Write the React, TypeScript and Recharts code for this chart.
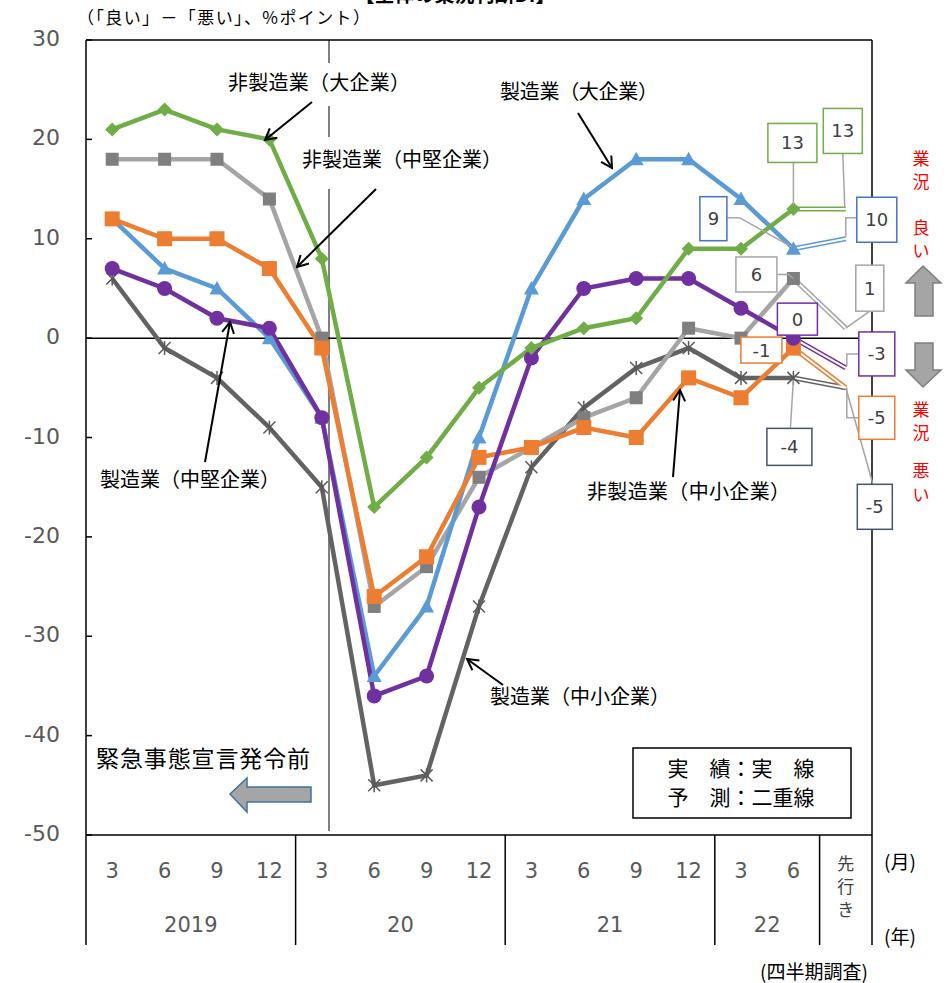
import React from 'react';
import { ComposedChart, Line, XAxis, YAxis, ReferenceLine } from 'recharts';

// ---------- data ----------
const months = ['3', '6', '9', '12', '3', '6', '9', '12', '3', '6', '9', '12', '3', '6', '先行き'];
const yearLabels = ['2019', '20', '21', '22'];
const yearFrom = [0, 4, 8, 12];
const yearTo = [3, 7, 11, 13];
const yTicks = [-50, -40, -30, -20, -10, 0, 10, 20, 30];

const nonMfgLarge = [21, 23, 21, 20, 8, -17, -12, -5, -1, 1, 2, 9, 9, 13];
const nonMfgLargeFcst = 13;
const mfgLarge = [12, 7, 5, 0, -8, -34, -27, -10, 5, 14, 18, 18, 14, 9];
const mfgLargeFcst = 10;
const nonMfgMid = [18, 18, 18, 14, 0, -27, -23, -14, -11, -8, -6, 1, 0, 6];
const nonMfgMidFcst = 1;
const nonMfgSmall = [12, 10, 10, 7, -1, -26, -22, -12, -11, -9, -10, -4, -6, -1];
const nonMfgSmallFcst = -5;
const mfgMid = [7, 5, 2, 1, -8, -36, -34, -17, -2, 5, 6, 6, 3, 0];
const mfgMidFcst = -3;
const mfgSmall = [6, -1, -4, -9, -15, -45, -44, -27, -13, -7, -3, -1, -4, -4];
const mfgSmallFcst = -5;

// ---------- styles ----------
const JP = '"Noto Sans CJK JP", "Noto Sans", sans-serif';
const NUM = '"DejaVu Sans", Verdana, sans-serif';
const W = 950;
const H = 983;
const PLOT_LEFT = 86;
const PLOT_RIGHT = 872;
const PLOT_TOP = 40;
const PLOT_BOTTOM = 835;
const TABLE_H = 110;
const BAND = (PLOT_RIGHT - PLOT_LEFT) / months.length;

type LabelSpec = { dx: number; dy: number; w: number; h: number; leader: number[][] };
type Series = {
  key: string;
  values: number[];
  forecast: number;
  color: string;
  markerColor: string;
  marker: string;
  border: string;
  actualLabel: LabelSpec;
  fcstLabel: LabelSpec;
};

const series: Series[] = [
  {
    key: 'mfgSmall', values: mfgSmall, forecast: mfgSmallFcst, color: '#636363', markerColor: '#595959', marker: 'star', border: '#44546a',
    actualLabel: { dx: -4, dy: 69, w: 45, h: 37, leader: [[-3, 50], [0, 2]] },
    fcstLabel: { dx: 29, dy: 119, w: 35, h: 45, leader: [[0, 0], [27, 96]] },
  },
  {
    key: 'nonMfgMid', values: nonMfgMid, forecast: nonMfgMidFcst, color: '#a5a5a5', markerColor: '#7f7f7f', marker: 'square', border: '#a5a5a5',
    actualLabel: { dx: -37, dy: -4, w: 41, h: 35, leader: [[-16, -4], [-5, -4], [0, 0]] },
    fcstLabel: { dx: 24, dy: -40, w: 28, h: 46, leader: [[24, -17], [0, 0]] },
  },
  {
    key: 'mfgLarge', values: mfgLarge, forecast: mfgLargeFcst, color: '#5b9bd5', markerColor: '#5b9bd5', marker: 'triangle', border: '#4472c4',
    actualLabel: { dx: -80, dy: -30, w: 27, h: 44, leader: [[-66, -31], [-54, -31], [-2, -2]] },
    fcstLabel: { dx: 31, dy: -19, w: 40, h: 45, leader: [[11, -21], [0, -21], [0, -2]] },
  },
  {
    key: 'nonMfgSmall', values: nonMfgSmall, forecast: nonMfgSmallFcst, color: '#ed7d31', markerColor: '#ed7d31', marker: 'bigsquare', border: '#ed7d31',
    actualLabel: { dx: -32, dy: 2, w: 41, h: 26, leader: [] },
    fcstLabel: { dx: 31, dy: 30, w: 36, h: 43, leader: [[1, 0], [1, 30], [13, 30]] },
  },
  {
    key: 'mfgMid', values: mfgMid, forecast: mfgMidFcst, color: '#7030a0', markerColor: '#7030a0', marker: 'circle', border: '#7030a0',
    actualLabel: { dx: 4, dy: -19, w: 40, h: 32, leader: [] },
    fcstLabel: { dx: 31, dy: -14, w: 36, h: 44, leader: [[13, -14], [1, -14], [1, -2]] },
  },
  {
    key: 'nonMfgLarge', values: nonMfgLarge, forecast: nonMfgLargeFcst, color: '#70ad47', markerColor: '#70ad47', marker: 'diamond', border: '#70ad47',
    actualLabel: { dx: -1, dy: -66, w: 49, h: 39, leader: [[0, -47], [0, -4]] },
    fcstLabel: { dx: -3, dy: -78, w: 39, h: 45, leader: [[-3, -56], [-1, -1]] },
  },
];

const data = months.map((m, i) => {
  const row: any = { i };
  series.forEach((s) => {
    const n = s.values.length;
    row[s.key] = i < n ? s.values[i] : null;
    row[s.key + 'F'] = i === n - 1 ? s.values[n - 1] : i === n ? s.forecast : null;
  });
  return row;
});

// ---------- renderers ----------
function Marker({ shape, cx, cy, color }: any) {
  switch (shape) {
    case 'diamond':
      return <polygon points={`${cx},${cy - 7} ${cx + 7},${cy} ${cx},${cy + 7} ${cx - 7},${cy}`} fill={color} />;
    case 'square':
      return <rect x={cx - 6.5} y={cy - 6.5} width={13} height={13} fill={color} />;
    case 'bigsquare':
      return <rect x={cx - 7.5} y={cy - 7.5} width={15} height={15} fill={color} />;
    case 'triangle':
      return <polygon points={`${cx},${cy - 7.5} ${cx + 7.5},${cy + 6} ${cx - 7.5},${cy + 6}`} fill={color} />;
    case 'circle':
      return <circle cx={cx} cy={cy} r={7.5} fill={color} />;
    case 'star':
      return (
        <g stroke={color} strokeWidth={1.5}>
          <line x1={cx - 6} y1={cy - 6} x2={cx + 6} y2={cy + 6} />
          <line x1={cx - 6} y1={cy + 6} x2={cx + 6} y2={cy - 6} />
          <line x1={cx} y1={cy - 7} x2={cx} y2={cy + 7} />
        </g>
      );
    default:
      return null;
  }
}

const makeDot = (s: Series) => (p: any) => {
  if (p == null || p.cy == null || p.value == null) return <g key={`d-${s.key}-${p?.index}`} />;
  return (
    <g key={`d-${s.key}-${p.index}`}>
      <Marker shape={s.marker} cx={p.cx} cy={p.cy} color={s.markerColor} />
    </g>
  );
};

const makeLabel = (s: Series) => (p: any) => {
  const { x, y, index, value } = p;
  if (value == null || x == null || y == null) return <g />;
  const n = s.values.length;
  const spec = index === n ? s.fcstLabel : index === n - 1 ? s.actualLabel : null;
  if (!spec) return <g />;
  const bx = x + spec.dx;
  const by = y + spec.dy;
  const pts = spec.leader.map((q) => `${x + q[0]},${y + q[1]}`).join(' ');
  return (
    <g>
      {spec.leader.length > 0 && <polyline points={pts} fill="none" stroke="#a5a5a5" strokeWidth={1.5} />}
      <rect x={bx - spec.w / 2} y={by - spec.h / 2} width={spec.w} height={spec.h} fill="#fff" stroke={s.border} strokeWidth={1.5} />
      <text x={bx} y={by + 6.5} textAnchor="middle" fontFamily={NUM} fontSize={18} fill="#404040">
        {value}
      </text>
    </g>
  );
};

const YTick = (p: any) => {
  const { y, payload } = p;
  return (
    <g>
      <text x={PLOT_LEFT - 26} y={y + 6} textAnchor="end" fontFamily={NUM} fontSize={22} fill="#595959">
        {payload.value}
      </text>
      <line x1={PLOT_LEFT} y1={y} x2={PLOT_LEFT + 6} y2={y} stroke="#000" strokeWidth={1.5} />
    </g>
  );
};

const XTick = (p: any) => {
  const { x, payload } = p;
  const y = PLOT_BOTTOM;
  const i = Number(payload.value);
  const label = months[i];
  const els: any[] = [];
  if (i === months.length - 1) {
    els.push(
      <text key="c" textAnchor="middle" fontFamily={JP} fontSize={17} fill="#404040">
        {label.split('').map((c, k) => (
          <tspan key={k} x={x} y={y + 35 + k * 23}>
            {c}
          </tspan>
        ))}
      </text>
    );
  } else {
    els.push(
      <text key="m" x={x} y={y + 43} textAnchor="middle" fontFamily={NUM} fontSize={21} fill="#595959">
        {label}
      </text>
    );
  }
  const g = yearFrom.indexOf(i);
  if (g >= 0) {
    const cx = x + ((yearTo[g] - yearFrom[g]) * BAND) / 2;
    els.push(
      <text key="y" x={cx} y={y + 97} textAnchor="middle" fontFamily={NUM} fontSize={21} fill="#595959">
        {yearLabels[g]}
      </text>
    );
  }
  if (i === 0) {
    els.push(<line key="l0" x1={x - BAND / 2} y1={y} x2={x - BAND / 2} y2={y + TABLE_H} stroke="#000" strokeWidth={1.5} />);
  }
  if (yearTo.indexOf(i) >= 0 || i === months.length - 1) {
    els.push(<line key="l1" x1={x + BAND / 2} y1={y} x2={x + BAND / 2} y2={y + TABLE_H} stroke="#000" strokeWidth={1.5} />);
  }
  return <g>{els}</g>;
};

// ---------- annotations ----------
const annTexts = [
  { t: '非製造業（大企業）', x: 228, y: 90, len: 182 },
  { t: '非製造業（中堅企業）', x: 302, y: 167, len: 200 },
  { t: '製造業（大企業）', x: 500, y: 99, len: 158 },
  { t: '製造業（中堅企業）', x: 100, y: 487, len: 180 },
  { t: '非製造業（中小企業）', x: 587, y: 499, len: 203 },
  { t: '製造業（中小企業）', x: 490, y: 704, len: 180 },
];
const annArrows = [
  [312, 102, 265, 140],
  [376, 189, 297, 267],
  [578, 113, 612, 168],
  [205, 462, 230, 322],
  [673, 477, 680, 390],
  [503, 685, 467, 659],
];
const sideChars = [
  ['業', 165],
  ['況', 188],
  ['良', 234],
  ['い', 257],
  ['業', 416],
  ['況', 439],
  ['悪', 477],
  ['い', 501],
];

export default function App() {
  return (
    <div style={{ position: 'absolute', left: 0, top: 0, width: W, height: H, background: '#fff' }}>
      <svg width={W} height={H} style={{ position: 'absolute', left: 0, top: 0 }}>
        <g stroke="#000" strokeWidth={1}>
          <line x1={329} y1={PLOT_TOP} x2={329} y2={63} />
          <line x1={329} y1={106} x2={329} y2={137} />
          <line x1={329} y1={189} x2={329} y2={PLOT_BOTTOM - 4} />
        </g>
        <line x1={PLOT_RIGHT} y1={PLOT_TOP} x2={PLOT_RIGHT} y2={PLOT_BOTTOM} stroke="#000" strokeWidth={1.5} />
      </svg>
      <div style={{ position: 'absolute', left: 0, top: 0 }}>
        <ComposedChart width={W} height={H} data={data} margin={{ top: PLOT_TOP, right: W - PLOT_RIGHT, bottom: H - PLOT_BOTTOM - TABLE_H, left: 0 }}>
          <XAxis
            dataKey="i"
            type="category"
            scale="band"
            padding={{ left: 0, right: 0 }}
            interval={0}
            height={TABLE_H}
            axisLine={{ stroke: '#000', strokeWidth: 1.5 }}
            tickLine={false}
            tickSize={0}
            tickMargin={0}
            tick={<XTick />}
          />
          <YAxis
            type="number"
            domain={[-50, 30]}
            ticks={yTicks}
            interval={0}
            width={PLOT_LEFT}
            axisLine={{ stroke: '#000', strokeWidth: 1.5 }}
            tickLine={false}
            tickSize={0}
            tickMargin={0}
            tick={<YTick />}
          />
          <ReferenceLine y={30} stroke="#000" strokeWidth={1.5} />
          <ReferenceLine y={0} stroke="#000" strokeWidth={1.5} />
          {series.map((s) => (
            <Line key={s.key + 'Fo'} dataKey={s.key + 'F'} stroke={s.color} strokeWidth={5} dot={false} activeDot={false} isAnimationActive={false} connectNulls={false} />
          ))}
          {series.map((s) => (
            <Line key={s.key + 'Fi'} dataKey={s.key + 'F'} stroke="#fff" strokeWidth={2} dot={false} activeDot={false} isAnimationActive={false} connectNulls={false} />
          ))}
          {series.map((s) => (
            <Line key={s.key} dataKey={s.key} stroke={s.color} strokeWidth={4.5} dot={makeDot(s)} activeDot={false} isAnimationActive={false} />
          ))}
          {series.map((s) => (
            <Line key={s.key + 'L'} dataKey={s.key + 'F'} stroke="none" dot={false} activeDot={false} isAnimationActive={false} label={makeLabel(s)} />
          ))}
        </ComposedChart>
      </div>
      <svg width={W} height={H} style={{ position: 'absolute', left: 0, top: 0, pointerEvents: 'none' }}>
        <defs>
          <marker id="ah" markerUnits="userSpaceOnUse" markerWidth={14} markerHeight={14} refX={12} refY={7} orient="auto">
            <path d="M1,1 L12,7 L1,13" fill="none" stroke="#000" strokeWidth={2} />
          </marker>
        </defs>
        <text x={455} y={2} textAnchor="middle" fontFamily={JP} fontSize={20} fontWeight="bold" fill="#000">
          【全体の業況判断DI】
        </text>
        <text x={77} y={24} fontFamily={JP} fontSize={17} textLength={293} lengthAdjust="spacing" fill="#000">
          （「良い」－「悪い」、%ポイント）
        </text>
        {annTexts.map((a, k) => (
          <text key={k} x={a.x} y={a.y} fontFamily={JP} fontSize={20} textLength={a.len} lengthAdjust="spacing" fill="#000">
            {a.t}
          </text>
        ))}
        {annArrows.map((a, k) => (
          <line key={k} x1={a[0]} y1={a[1]} x2={a[2]} y2={a[3]} stroke="#000" strokeWidth={2} markerEnd="url(#ah)" />
        ))}
        <text x={96} y={767} fontFamily={JP} fontSize={23} textLength={214} lengthAdjust="spacing" fill="#000">
          緊急事態宣言発令前
        </text>
        <polygon points="230,794 247,778 247,787 311,787 311,802 247,802 247,812" fill="#a5a5a5" stroke="#41719c" strokeWidth={1.5} />
        <rect x={633} y={748} width={218} height={70} fill="#fff" stroke="#000" strokeWidth={1.5} />
        <text x={741} y={776} textAnchor="middle" fontFamily={JP} fontSize={21} fill="#000">
          実　績：実　線
        </text>
        <text x={741} y={805} textAnchor="middle" fontFamily={JP} fontSize={21} fill="#000">
          予　測：二重線
        </text>
        {sideChars.map((c, k) => (
          <text key={k} x={921} y={c[1] as number} textAnchor="middle" fontFamily={JP} fontSize={17} fill="#ff0000">
            {c[0]}
          </text>
        ))}
        <polygon points="923,266 941,283 933,283 933,316 915,316 915,283 906,283" fill="#a5a5a5" stroke="#7f7f7f" strokeWidth={1.5} />
        <polygon points="915,343 933,343 933,370 941,370 923,387 906,370 915,370" fill="#a5a5a5" stroke="#7f7f7f" strokeWidth={1.5} />
        <text x={884} y={869} fontFamily={JP} fontSize={19} fill="#000">(月)</text>
        <text x={884} y={944} fontFamily={JP} fontSize={19} fill="#000">(年)</text>
        <text x={760} y={979} fontFamily={JP} fontSize={19} fill="#000">(四半期調査)</text>
      </svg>
    </div>
  );
}
